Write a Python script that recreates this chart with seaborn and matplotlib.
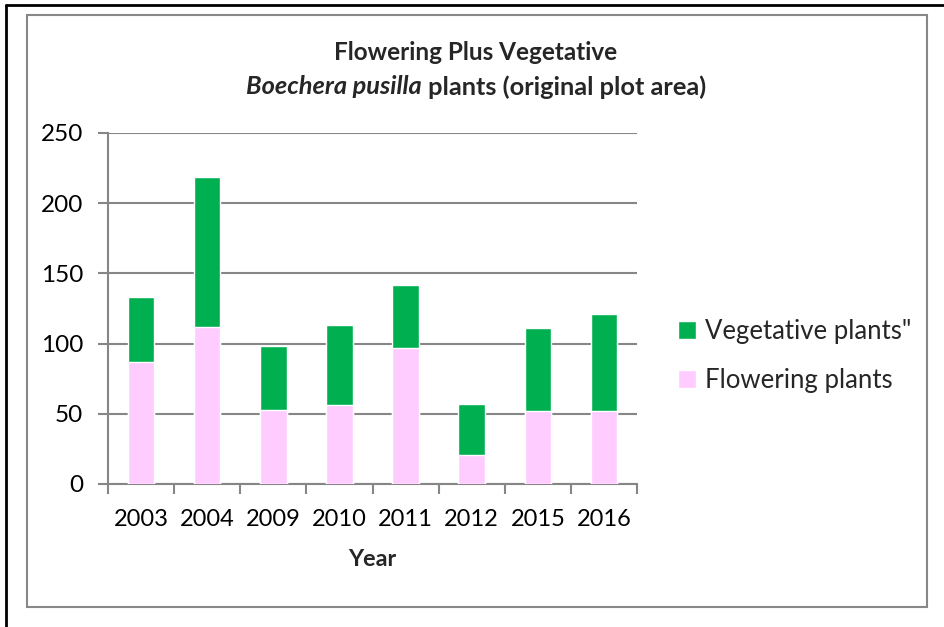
import numpy as np
import pandas as pd
import matplotlib
matplotlib.use("Agg")
import matplotlib.pyplot as plt
from matplotlib.patches import Patch, Rectangle
import seaborn as sns

sns.set_theme(style="white")
plt.rcParams['font.family'] = ['Lato', 'DejaVu Sans']

# ─── data ────────────────────────────────────────────────────────────────────
years      = ['2003', '2004', '2009', '2010', '2011', '2012', '2015', '2016']
flowering  = [87, 112, 53, 56, 97, 21, 52, 52]
vegetative = [46, 107, 45, 57, 45, 36, 59, 69]
y_ticks    = [0, 50, 100, 150, 200, 250]

df = pd.DataFrame({'Year': years, 'Flowering': flowering, 'Vegetative': vegetative})
df['Total'] = df['Flowering'] + df['Vegetative']

GREEN = '#00B050'
PINK = '#FFCCFF'
GRID = '#868686'

W, H = 944, 627
fig = plt.figure(figsize=(W / 100, H / 100), dpi=100)
ax = fig.add_axes([108 / W, 1 - 484 / H, (637 - 108) / W, (484 - 133) / H])

# stacked bars: total (green) first, flowering (pink) drawn over it
sns.barplot(data=df, x='Year', y='Total', color=GREEN, width=0.4,
            saturation=1, ax=ax, zorder=3)
sns.barplot(data=df, x='Year', y='Flowering', color=PINK, width=0.4,
            saturation=1, ax=ax, zorder=4)

ax.set_ylim(0, 250)
ax.set_xlim(-0.5, len(years) - 0.5)
ax.set_yticks(y_ticks)
ax.yaxis.grid(True, color=GRID, linewidth=1.5, zorder=0)
ax.set_axisbelow(True)

for s in ['top', 'right']:
    ax.spines[s].set_visible(False)
for s in ['left', 'bottom']:
    ax.spines[s].set_color(GRID)
    ax.spines[s].set_linewidth(1.5)

ax.tick_params(axis='y', which='major', length=7, width=1.5, color=GRID,
               direction='out', left=True, labelsize=17.5, pad=11, labelcolor='black')
ax.tick_params(axis='x', which='major', length=0, labelsize=17, pad=18,
               labelcolor='black')
ax.set_xticks(np.arange(-0.5, len(years)), minor=True)
ax.tick_params(axis='x', which='minor', length=7, width=1.5, color=GRID,
               direction='out', bottom=True)

ax.set_ylabel('')
ax.set_xlabel('Year', fontsize=16.8, fontweight='bold', labelpad=14)

# legend
handles = [Patch(facecolor=GREEN, label='Vegetative plants"'),
           Patch(facecolor=PINK, label='Flowering plants')]
fig.legend(handles=handles, loc='center left', bbox_to_anchor=(655 / W, 1 - 356 / H),
           frameon=False, fontsize=18.5, handlelength=0.7, handleheight=0.7,
           handletextpad=0.35, labelspacing=0.95)

# title, two lines, second one partly italic
fig.text(476 / W, 1 - 52 / H, 'Flowering Plus Vegetative', ha='center', va='center',
         fontsize=17.5, fontweight='bold')
renderer = fig.canvas.get_renderer()
t1 = fig.text(0, 1 - 87 / H, 'Boechera pusilla', ha='left', va='center',
              fontsize=18.3, fontweight='bold', style='italic')
t2 = fig.text(0, 1 - 87 / H, ' plants (original plot area)', ha='left', va='center',
              fontsize=18.3, fontweight='bold')
w1 = t1.get_window_extent(renderer).width
w2 = t2.get_window_extent(renderer).width
x0 = 476.5 - (w1 + w2) / 2
t1.set_x(x0 / W)
t2.set_x((x0 + w1) / W)

# chart borders
fig.patches.append(Rectangle((27 / W, 1 - 607 / H), (927 - 27) / W, (607 - 15) / H,
                             transform=fig.transFigure, fill=False,
                             edgecolor='#878787', linewidth=1.5))
fig.lines.append(plt.Line2D([6 / W, 6 / W], [0, 1 - 5 / H], transform=fig.transFigure,
                            color='black', linewidth=2))
fig.lines.append(plt.Line2D([6 / W, 1], [1 - 5 / H, 1 - 5 / H], transform=fig.transFigure,
                            color='black', linewidth=2))

fig.savefig('out.png', dpi=100, facecolor='white')
